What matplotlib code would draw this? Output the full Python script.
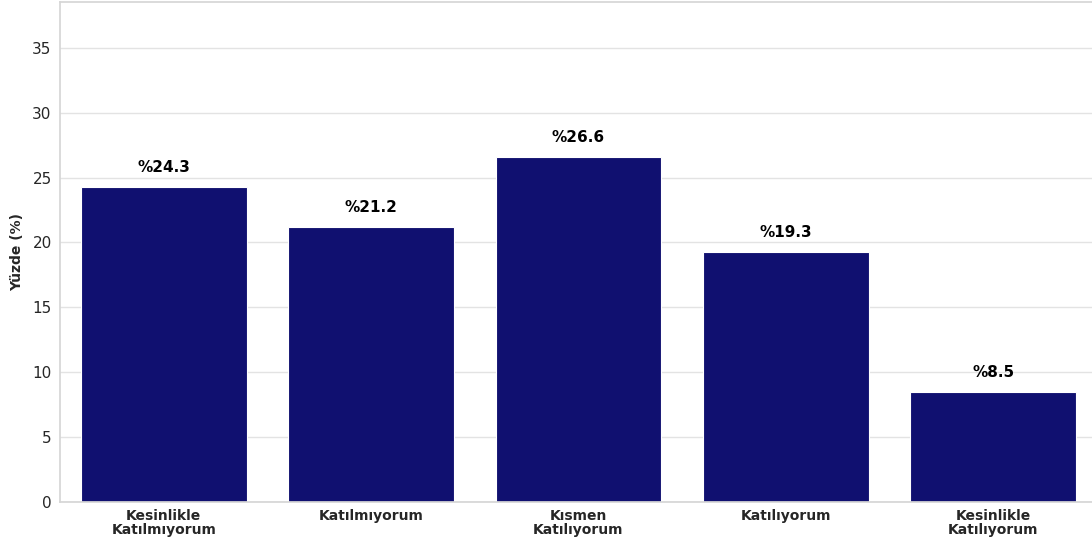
import matplotlib
matplotlib.use('Agg')
import matplotlib.pyplot as plt
import seaborn as sns

categories = ['Kesinlikle\nKatılmıyorum', 'Katılmıyorum', 'Kısmen\nKatılıyorum',
              'Katılıyorum', 'Kesinlikle\nKatılıyorum']
percentages = [24.3, 21.2, 26.6, 19.3, 8.5]

sns.set_theme(style='whitegrid', rc={'grid.color': '#e3e3e3', 'axes.edgecolor': '#d6d6d6'})

fig = plt.figure(figsize=(10.92, 5.48), dpi=100)
# axes spans slightly past the right edge (reference image is cropped)
ax = fig.add_axes([60 / 1092, 46 / 548, 1037 / 1092, 500.5 / 548])

sns.barplot(x=categories, y=percentages, color='navy', ax=ax, edgecolor='white', linewidth=0.8)

for i, v in enumerate(percentages):
    ax.text(i, v + 0.9, f'%{v}', ha='center', va='bottom', fontsize=11,
            fontweight='bold', color='black')

ax.set_ylim(0, max(percentages) * 1.45)
ax.set_xlim(-0.5, 4.5)
ax.set_ylabel('Yüzde (%)', fontsize=10, fontweight='bold', color='#262626')
ax.set_xlabel('')
ax.tick_params(axis='y', labelsize=11, colors='#262626', length=0, pad=6)
ax.tick_params(axis='x', labelsize=10, colors='#262626', length=0, pad=5)
for lbl in ax.get_xticklabels():
    lbl.set_fontweight('bold')
    lbl.set_linespacing(1.0)
ax.yaxis.labelpad = 6

plt.savefig('out.png', dpi=100)
